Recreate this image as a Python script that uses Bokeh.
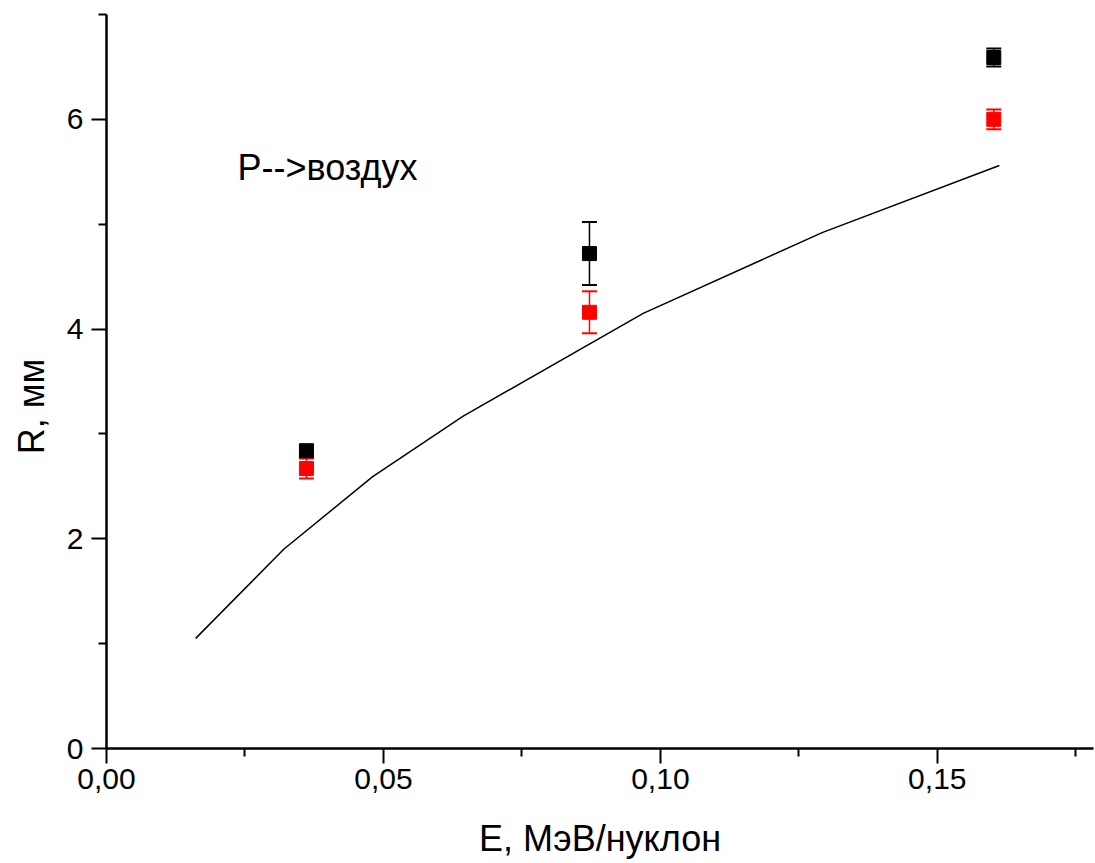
from bokeh.plotting import figure
from bokeh.models import ColumnDataSource, Range1d, FixedTicker, Whisker, TeeHead, Label
from bokeh.embed import file_html
from bokeh.resources import INLINE

# ---- data ----
calc_E = [0.0161, 0.0320, 0.0480, 0.0644, 0.0969, 0.1292, 0.1612]
calc_R = [1.05, 1.90, 2.59, 3.17, 4.15, 4.92, 5.56]

exp_E = [0.0361, 0.0872, 0.1602]
black_R = [2.84, 4.72, 6.59]
black_err = [0.05, 0.30, 0.085]
red_R = [2.67, 4.16, 6.00]
red_err = [0.095, 0.20, 0.095]

x_ticks = [0.0, 0.05, 0.10, 0.15]
x_tick_labels = ["0,00", "0,05", "0,10", "0,15"]
x_minor = [0.025, 0.075, 0.125, 0.175]
y_ticks = [0, 2, 4, 6]
y_minor = [1, 3, 5, 7]

FONT = "Liberation Sans"

p = figure(width=1095, height=863, output_backend="svg", toolbar_location=None,
           x_range=Range1d(0, 0.1782), y_range=Range1d(0, 7.0),
           min_border_left=106, min_border_right=2, min_border_top=14, min_border_bottom=115)
p.outline_line_color = None
p.xgrid.visible = False
p.ygrid.visible = False
p.background_fill_color = "white"

p.xaxis.ticker = FixedTicker(ticks=x_ticks, minor_ticks=x_minor)
p.xaxis.major_label_overrides = {t: l for t, l in zip(x_ticks, x_tick_labels)}
p.yaxis.ticker = FixedTicker(ticks=y_ticks, minor_ticks=y_minor)

for ax in (p.xaxis[0], p.yaxis[0]):
    ax.axis_line_width = 2.5
    ax.major_tick_line_width = 2
    ax.minor_tick_line_width = 2
    ax.major_tick_out = 15
    ax.major_tick_in = 0
    ax.minor_tick_out = 8
    ax.minor_tick_in = 0
    ax.major_label_text_font = FONT
    ax.major_label_text_font_size = "30px"
    ax.major_label_text_color = "black"
    ax.axis_label_text_font = FONT
    ax.axis_label_text_font_size = "36px"
    ax.axis_label_text_font_style = "normal"
    ax.axis_label_text_color = "black"

p.xaxis.axis_label = "E, МэВ/нуклон"
p.xaxis.major_label_standoff = 5
p.xaxis.axis_label_standoff = 26
p.yaxis.major_label_standoff = 8
# trailing no-break spaces move the visible label slightly below the frame centre
p.yaxis.axis_label = "R, мм" + "\u00a0" * 5
p.yaxis.axis_label_standoff = 12

# calculated curve
p.line(calc_E, calc_R, line_color="black", line_width=1.5)

# error bars
bsrc = ColumnDataSource(dict(x=exp_E, y=black_R,
                             up=[r + e for r, e in zip(black_R, black_err)],
                             lo=[r - e for r, e in zip(black_R, black_err)]))
rsrc = ColumnDataSource(dict(x=exp_E, y=red_R,
                             up=[r + e for r, e in zip(red_R, red_err)],
                             lo=[r - e for r, e in zip(red_R, red_err)]))
for src, col in ((bsrc, "black"), (rsrc, "red")):
    w = Whisker(source=src, base="x", upper="up", lower="lo", dimension="height",
                line_color=col, line_width=1.5,
                upper_head=TeeHead(size=15, line_color=col, line_width=2),
                lower_head=TeeHead(size=15, line_color=col, line_width=2))
    p.add_layout(w)

p.scatter("x", "y", source=bsrc, marker="square", size=14, fill_color="black", line_color="black")
p.scatter("x", "y", source=rsrc, marker="square", size=14, fill_color="red", line_color="red")

p.add_layout(Label(x=0.02365, y=5.54, text="P-->воздух", text_align="left",
                   text_baseline="alphabetic", text_font=FONT, text_font_size="36px",
                   text_color="black"))

open("out.html", "w").write(file_html(p, INLINE))
